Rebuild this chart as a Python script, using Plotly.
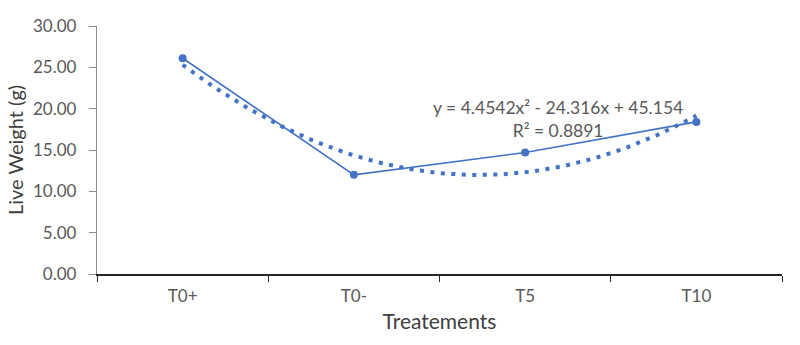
import numpy as np
import plotly.graph_objects as go

categories = ["T0+", "T0-", "T5", "T10"]
live_weight = [26.1, 12.0, 14.7, 18.4]
trend_coeffs = [4.4542, -24.316, 45.154]  # y = a x^2 + b x + c (from chart label)
y_ticks = [0, 5, 10, 15, 20, 25, 30]

blue = "#4472C4"
gray = "#595959"
font = "Lato, 'Open Sans', sans-serif"

pos = np.arange(1, len(categories) + 1)
xs = np.linspace(1, len(categories), 200)
ys = np.polyval(trend_coeffs, xs)

fig = go.Figure()
fig.add_trace(go.Scatter(x=xs, y=ys, mode="lines",
                         line=dict(color=blue, width=4, dash="4px,6.5px"),
                         hoverinfo="skip", showlegend=False))
fig.add_trace(go.Scatter(x=pos, y=live_weight, mode="lines+markers",
                         line=dict(color=blue, width=1.6),
                         marker=dict(color=blue, size=8),
                         showlegend=False))
# invisible trace on overlay axis for category labels
fig.add_trace(go.Scatter(x=pos, y=live_weight, xaxis="x2", mode="markers",
                         marker=dict(opacity=0), hoverinfo="skip", showlegend=False))

fig.update_layout(
    width=800, height=345,
    margin=dict(l=97, r=18, t=26, b=71),
    plot_bgcolor="white", paper_bgcolor="white",
    font=dict(family=font, color=gray, size=17),
    xaxis=dict(range=[0.5, len(categories) + 0.5],
               tickvals=list(np.arange(0.5, len(categories) + 1, 1.0)),
               ticktext=[""] * (len(categories) + 1),
               ticks="outside", ticklen=6, tickcolor="#262626", tickwidth=1.3,
               showline=True, linecolor="#262626", linewidth=1.5,
               showgrid=False, zeroline=False,
               title=dict(text="Treatements", font=dict(size=21, color="#404040"), standoff=30)),
    xaxis2=dict(overlaying="x", range=[0.5, len(categories) + 0.5],
                tickvals=list(pos), ticktext=categories, side="bottom",
                ticks="", showline=False, showgrid=False, zeroline=False,
                ticklabelstandoff=10,
                tickfont=dict(size=17, color=gray)),
    yaxis=dict(range=[0, 30], tickvals=y_ticks, tickformat=".2f",
               ticks="outside", ticklen=7, tickcolor="#8c8c8c",
               showline=True, linecolor="#8c8c8c", linewidth=1.3,
               showgrid=False, zeroline=False, ticklabelstandoff=9,
               tickfont=dict(size=17, color=gray),
               title=dict(text="Live Weight (g)", font=dict(size=20, color="#404040"), standoff=3)),
    annotations=[
        dict(x=3.19, y=18.8, xref="x", yref="y", showarrow=False,
             text="y = 4.4542x² - 24.316x + 45.154<br>R² = 0.8891",
             font=dict(size=17.5, color=gray), align="center",
             xanchor="center", yanchor="middle"),
    ],
)
fig.write_html("out.html")
